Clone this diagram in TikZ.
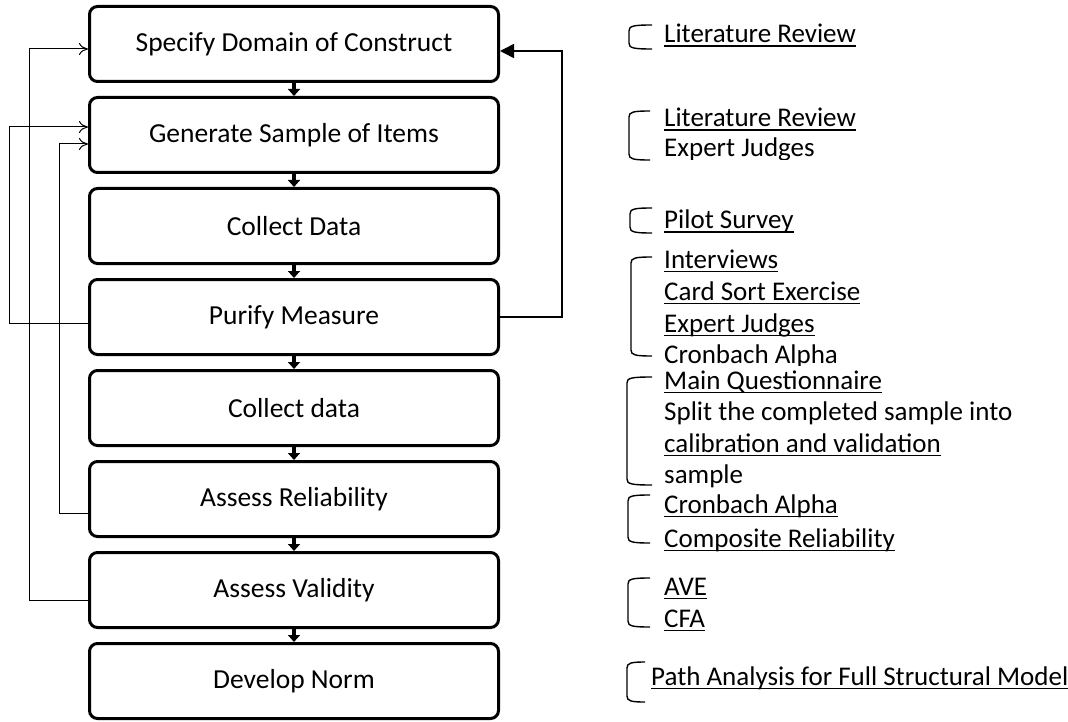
\documentclass[tikz,border=0pt]{standalone}
\usepackage{fontspec}
\setmainfont{Carlito}
\usetikzlibrary{arrows.meta,calc}

% underline sitting a fixed distance below the baseline
\newcommand{\uline}[1]{\setbox0\hbox{#1}\rlap{\rule[-4pt]{\wd0}{1.5pt}}\box0}
% rounded left bracket: left x, top y, bottom y, right x
\newcommand{\lbrk}[4]{\draw[brk] (#4,#2) .. controls (#1+4,#2) and (#1,#2+1) .. (#1,#2+6) -- (#1,#3-6) .. controls (#1,#3-1) and (#1+4,#3) .. (#4,#3);}

\tikzset{
  stepbox/.style={draw, line width=3pt, rounded corners=8pt, minimum width=409pt,
                  minimum height=75pt, font=\fontsize{27.5}{33}\selectfont, inner sep=0pt},
  link/.style={line width=3.5pt, -{Triangle[width=12pt,length=7pt]}, shorten <=-1pt},
  fb/.style={line width=1pt, -{To[length=9pt,width=12pt]}},
  back/.style={line width=1.6pt, -{Triangle[width=14pt,length=14pt]}},
  brk/.style={line width=1.4pt},
  note/.style={anchor=base west, inner sep=0pt, font=\fontsize{27}{32}\selectfont},
}

\begin{document}
\begin{tikzpicture}[x=1pt,y=-1pt]
\useasboundingbox (0,0) rectangle (1068,722);

% process steps
\node[stepbox] (b1) at (294,44)  {Specify Domain of Construct};
\node[stepbox] (b2) at (294,135) {Generate Sample of Items};
\node[stepbox] (b3) at (294,226) {Collect Data};
\node[stepbox] (b4) at (294,317) {Purify Measure};
\node[stepbox] (b5) at (294,408) {Collect data};
\node[stepbox] (b6) at (294,499) {Assess Reliability};
\node[stepbox] (b7) at (294,590) {Assess Validity};
\node[stepbox] (b8) at (294,681) {Develop Norm};

% forward links
\foreach \a/\b in {b1/b2,b2/b3,b3/b4,b4/b5,b5/b6,b6/b7,b7/b8}
  \draw[link] (\a.south) -- (\b.north);

% feedback loops on the left
\coordinate (o4) at ($(b4.west)+(0,6)$);
\coordinate (o6) at ($(b6.west)+(0,14)$);
\coordinate (o7) at ($(b7.west)+(0,10)$);
\coordinate (i2a) at ($(b2.west)+(0,-8)$);
\coordinate (i2b) at ($(b2.west)+(0,9)$);
\coordinate (i1) at ($(b1.west)+(0,5)$);
\draw[fb] (o4) -- ++(-79,0) |- (i2a);
\draw[fb] (o6) -- ++(-29,0) |- (i2b);
\draw[fb] (o7) -- ++(-59,0) |- (i1);

% feedback loop on the right
\coordinate (i1r) at ($(b1.east)+(0,7)$);
\draw[back] (b4.east) -- ++(62,0) |- (i1r);

% brackets
\lbrk{629}{25}{49}{652}
\lbrk{629}{111}{160}{650}
\lbrk{630}{208}{233}{652}
\lbrk{631}{257}{356}{652}
\lbrk{627}{377}{485}{652}
\lbrk{628}{495}{543}{650}
\lbrk{628}{578}{627}{650}
\lbrk{627}{662}{702}{645}

% methods for each step
\node[note] (n1) at (664,43) {\uline{Literature Review}};
\node[note] (n2) at (664,127) {\uline{Literature Review}};
\begin{scope}
  \clip (600,130) rectangle (1068,160);
  \node[note] (n3) at (664,157) {Expert Judges};
\end{scope}
\node[note] (n4) at (664,229) {\uline{Pilot Survey}};
\node[note] (n5) at (664,268) {\uline{Interviews}};
\node[note] (n6) at (664,300) {\uline{Card Sort Exercise}};
\node[note] (n7) at (664,332) {\uline{Expert Judges}};
\begin{scope}
  \clip (600,338) rectangle (1068,365);
  \node[note] (n8) at (664,363) {Cronbach Alpha};
\end{scope}
\node[note] (n9) at (664,389) {\uline{Main Questionnaire}};
\node[note] (n10) at (664,420) {Split the completed sample into};
\node[note] (n11) at (664,452) {\uline{calibration and validation}};
\node[note] (n12) at (664,483) {sample};
\node[note] (n13) at (664,513) {\uline{Cronbach Alpha}};
\node[note] (n14) at (664,547) {\uline{Composite Reliability}};
\node[note] (n15) at (664,595) {\uline{AVE}};
\node[note] (n16) at (664,627) {\uline{CFA}};
\node[note] (n17) at (651,685) {\uline{Path Analysis for Full Structural Model}};
\end{tikzpicture}
\end{document}
